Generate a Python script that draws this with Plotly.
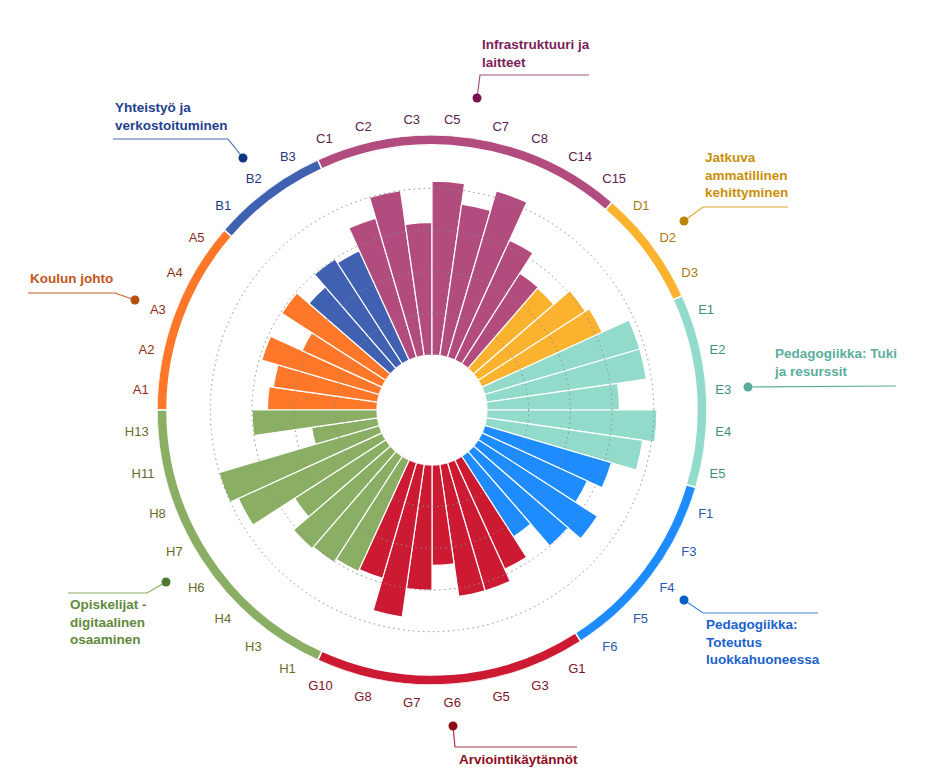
import plotly.graph_objects as go

# ---------------- data ----------------
group_codes = ["A", "B", "C", "D", "E", "F", "G", "H"]
group_titles = [
    "Koulun johto",
    "Yhteistyö ja<br>verkostoituminen",
    "Infrastruktuuri ja<br>laitteet",
    "Jatkuva<br>ammatillinen<br>kehittyminen",
    "Pedagogiikka: Tuki<br>ja resurssit",
    "Pedagogiikka:<br>Toteutus<br>luokkahuoneessa",
    "Arviointikäytännöt",
    "Opiskelijat -<br>digitaalinen<br>osaaminen",
]
group_items = [
    ["A1", "A2", "A3", "A4", "A5"],
    ["B1", "B2", "B3"],
    ["C1", "C2", "C3", "C5", "C7", "C8", "C14", "C15"],
    ["D1", "D2", "D3"],
    ["E1", "E2", "E3", "E4", "E5"],
    ["F1", "F3", "F4", "F5", "F6"],
    ["G1", "G3", "G5", "G6", "G7", "G8", "G10"],
    ["H1", "H3", "H4", "H6", "H7", "H8", "H11", "H13"],
]
group_values = [
    [2.63, 2.53, 2.94, 2.11, 2.97],
    [2.59, 2.99, 2.88],
    [3.48, 4.00, 3.18, 4.17, 3.67, 4.16, 3.16, 2.58],
    [2.55, 3.06, 3.17],
    [3.88, 3.88, 3.18, 4.08, 3.79],
    [3.17, 2.78, 3.40, 3.00, 2.30],
    [2.88, 3.20, 3.20, 2.41, 3.01, 3.70, 2.89],
    [2.94, 3.03, 3.08, 2.60, 3.79, 4.01, 1.60, 3.00],
]
grid_ticks = [0, 1, 2, 3, 4]

# ---------------- styles ----------------
bar_colors = ["#FF7829", "#4060B2", "#B24C7E", "#FBB32F", "#92DBCB", "#1E8BFF", "#CC1A33", "#8AAE63"]
label_colors = ["#8B2E16", "#1F3A7A", "#5C2150", "#A87A12", "#3F8F83", "#2A58B0", "#7D1426", "#6B6B2A"]
title_colors = ["#C4541A", "#1F3F8F", "#7B1E57", "#C98F0A", "#5BAE9E", "#1A62CC", "#8E0E1E", "#5F8A3C"]
dot_colors = ["#B5500F", "#0F3580", "#7B1050", "#B8860B", "#5BAE9E", "#0A5CC8", "#8B0A14", "#4F7A30"]
line_colors = ["#C8602A", "#4A66A8", "#A05080", "#E0A830", "#5BAE9E", "#3C86DC", "#B03040", "#8AAE63"]

W, H = 940, 784
OFF = 8  # page body margin in the screenshot
CX, CY, R = 432, 410, 275
HOLE = 55 / R
RMAX = 5.28
RING_BASE, RING_W = 5.04, 0.24


def px(x):
    return (x - OFF) / W


def py(y):
    return 1 - (y - OFF) / H


categories = [c for items in group_items for c in items]
values = [v for vals in group_values for v in vals]
colors = [bar_colors[g] for g, items in enumerate(group_items) for _ in items]
tick_text = [
    f'<span style="color:{label_colors[g]}">{c}</span>'
    for g, items in enumerate(group_items) for c in items
]

fig = go.Figure()

fig.add_trace(go.Barpolar(
    r=values, theta=categories,
    marker=dict(color=colors, line=dict(color="white", width=1.2)),
    subplot="polar", hoverinfo="skip", showlegend=False,
))

# outer ring, one segment per group
seg = 360 / len(categories)
ring_theta, ring_width = [], []
start = 0
for items in group_items:
    n = len(items)
    ring_theta.append((start + n / 2) * seg)
    ring_width.append(n * seg)
    start += n

fig.add_trace(go.Barpolar(
    r=[RING_W] * len(group_items), base=[RING_BASE] * len(group_items),
    theta=ring_theta, width=ring_width,
    marker=dict(color=bar_colors, line=dict(color="white", width=1.5)),
    subplot="polar2", hoverinfo="skip", showlegend=False,
))

dom = dict(x=[px(CX - R), px(CX + R)], y=[py(CY + R), py(CY - R)])
font_family = "Liberation Sans, Arial, sans-serif"

fig.update_layout(
    width=W, height=H,
    margin=dict(l=0, r=0, t=0, b=0),
    paper_bgcolor="white",
    showlegend=False,
    font=dict(family=font_family, size=13),
    polar=dict(
        domain=dom, hole=HOLE, bargap=0, bgcolor="white",
        radialaxis=dict(range=[0, RMAX], showgrid=False, showline=False,
                        showticklabels=False, ticks=""),
        angularaxis=dict(type="category", categoryarray=categories,
                         direction="clockwise", rotation=180 - 180 / len(categories),
                         showgrid=False, showline=False,
                         ticks="outside", ticklen=6, tickcolor="rgba(0,0,0,0)",
                         tickmode="array", tickvals=categories, ticktext=tick_text,
                         tickfont=dict(size=13, family=font_family)),
    ),
    polar2=dict(
        domain=dom, hole=HOLE, bargap=0, bgcolor="rgba(0,0,0,0)",
        radialaxis=dict(range=[0, RMAX], tickvals=grid_ticks, showgrid=True,
                        gridcolor="#8c8c8c", griddash="1.5px,3.5px", gridwidth=1.2,
                        showline=False, showticklabels=False, ticks=""),
        angularaxis=dict(type="linear", thetaunit="degrees", direction="clockwise",
                         rotation=180, showgrid=False, showline=False,
                         showticklabels=False, ticks=""),
    ),
)

# callouts: text position of first line, leader path points, dot
callouts = [
    dict(tx=28, ty=278, path=[(28, 293), (115, 293), (135, 300)], dot=(135, 300)),
    dict(tx=113, ty=107, path=[(113, 139), (228, 139), (243, 158)], dot=(243, 158)),
    dict(tx=480, ty=44, path=[(589, 75), (480, 75), (477, 98)], dot=(477, 98)),
    dict(tx=703, ty=157, path=[(788, 207), (703, 207), (684, 221)], dot=(684, 221)),
    dict(tx=772, ty=353, path=[(896, 386), (748, 387)], dot=(748, 387)),
    dict(tx=704, ty=624, path=[(684, 600), (703, 613), (818, 613)], dot=(684, 600)),
    dict(tx=457, ty=759, path=[(453, 726), (455, 747), (577, 747)], dot=(453, 726)),
    dict(tx=68, ty=604, path=[(166, 582), (147, 593), (68, 593)], dot=(166, 582)),
]

shapes, annotations = [], []
for g, c in enumerate(callouts):
    pts = c["path"]
    d = "M " + " L ".join(f"{px(x):.5f},{py(y):.5f}" for x, y in pts)
    shapes.append(dict(type="path", xref="paper", yref="paper", path=d,
                       line=dict(color=line_colors[g], width=1.2)))
    dx, dy = c["dot"]
    shapes.append(dict(type="circle", xref="paper", yref="paper",
                       x0=px(dx - 4.5), x1=px(dx + 4.5), y0=py(dy + 4.5), y1=py(dy - 4.5),
                       fillcolor=dot_colors[g], line=dict(width=0)))
    annotations.append(dict(
        xref="paper", yref="paper", x=px(c["tx"]), y=py(c["ty"] - 9),
        xanchor="left", yanchor="top", align="left", showarrow=False,
        text=f"<b>{group_titles[g]}</b>",
        font=dict(size=13.5, color=title_colors[g], family=font_family),
    ))

fig.update_layout(shapes=shapes, annotations=annotations)

fig.write_html("out.html")
